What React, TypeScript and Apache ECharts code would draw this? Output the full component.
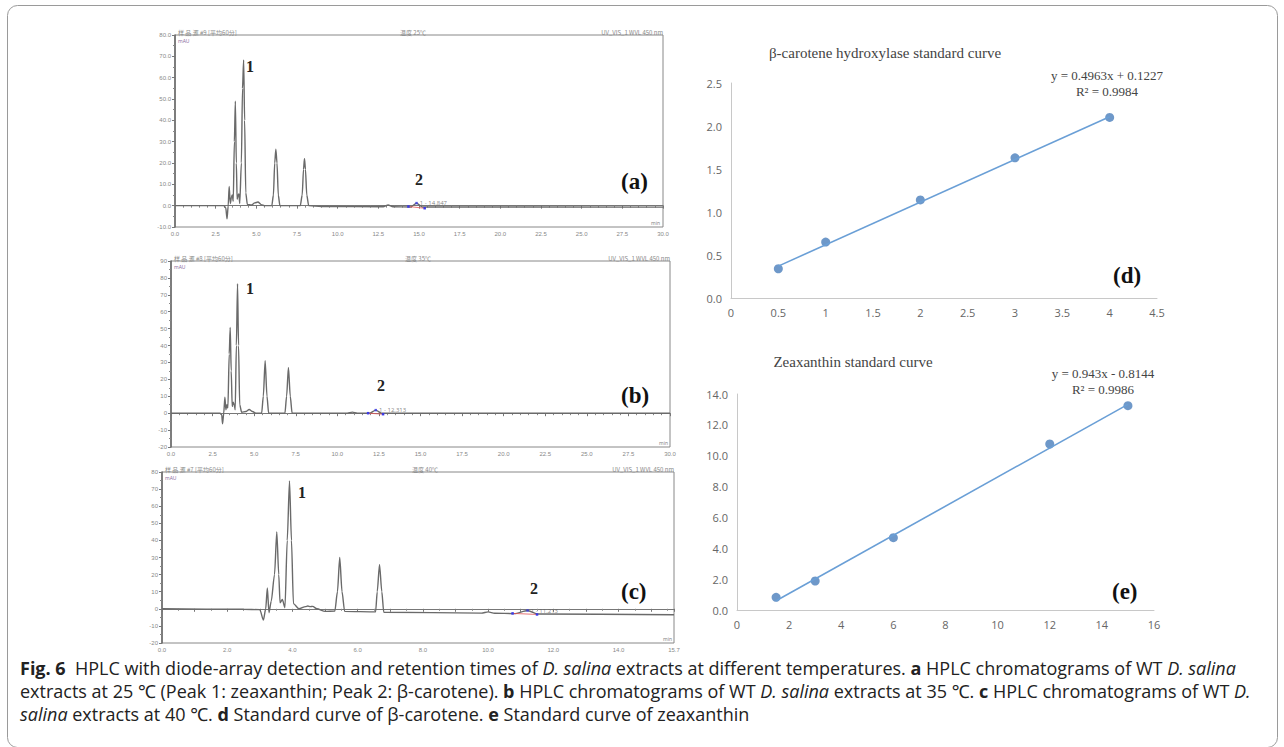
import React, { useEffect, useRef } from "react";
import * as echarts from "echarts";

// ---------- Chromatogram traces (time in min, absorbance in mAU) ----------
const chromA: number[][] = [
  [0, 0], [3.0, 0], [3.12, -1], [3.2, -6.2], [3.27, 0], [3.33, 9], [3.4, 1], [3.47, 4], [3.52, 5], [3.58, 2],
  [3.65, 30], [3.71, 49], [3.77, 20], [3.82, 3], [3.88, 5], [3.93, 5.5], [3.98, 1], [4.08, 20], [4.15, 55],
  [4.22, 68.3], [4.28, 40], [4.35, 6], [4.45, 0.5], [4.7, 0.3], [4.9, 1.3], [5.1, 1.7], [5.3, 0.5], [5.5, 0],
  [5.95, 0], [6.05, 5], [6.13, 20], [6.2, 26.5], [6.27, 20], [6.35, 5], [6.45, 0], [7.7, 0], [7.82, 5],
  [7.9, 17], [7.96, 22], [8.02, 17], [8.1, 5], [8.22, 0], [9, -0.4], [12.8, -0.5], [13.1, 0.3], [13.4, -0.5],
  [14.5, -0.6], [14.85, 1.2], [15.2, -0.6], [30, -0.7],
];
const chromB: number[][] = [
  [0, 0], [2.95, 0], [3.05, -1], [3.1, -6.3], [3.17, 0], [3.24, 9.4], [3.3, 2], [3.36, 5], [3.42, 3],
  [3.5, 35], [3.56, 50.7], [3.62, 25], [3.68, 4], [3.74, 6.5], [3.8, 5], [3.86, 2], [3.93, 40], [4.0, 76.6],
  [4.06, 40], [4.13, 5], [4.25, 0.5], [4.5, 1], [4.7, 2.2], [4.9, 1], [5.1, 0], [5.45, 0], [5.55, 10],
  [5.66, 31], [5.77, 10], [5.87, 0], [6.85, 0], [6.95, 10], [7.06, 27], [7.17, 10], [7.28, 0], [10.6, 0],
  [10.9, 0.6], [11.2, 0], [11.95, 0], [12.31, 1.8], [12.65, 0], [30, 0],
];
const chromC: number[][] = [
  [0, 0], [2.5, -0.3], [3.0, -0.5], [3.11, -6.6], [3.18, 0], [3.23, 12.2], [3.28, -2.3], [3.35, 4.5],
  [3.45, 20], [3.52, 45], [3.58, 20], [3.62, 3.5], [3.69, 5.4], [3.77, 0.6], [3.84, 40], [3.91, 74.8],
  [3.97, 40], [4.03, 3], [4.2, 0], [4.4, 1.3], [4.47, 1.6], [4.55, 1.3], [4.62, 1.4], [4.75, 0], [5.0, -1.5],
  [5.3, -1.3], [5.38, 10], [5.45, 30], [5.52, 10], [5.6, -1.5], [6.55, -1.8], [6.6, 10], [6.67, 26],
  [6.74, 10], [6.8, -2], [9.8, -2.5], [10.0, -1.8], [10.2, -2.6], [10.8, -2.8], [11.21, -1.0], [11.5, -3],
  [15.7, -3.5],
];
// integration baselines of peak 2 (start, end)
const integA: number[][] = [[14.35, -0.4], [15.35, -1.2]];
const integB: number[][] = [[11.85, 0], [12.75, -0.6]];
const integC: number[][] = [[10.75, -2.7], [11.5, -3.3]];
const peak2A = [14.85, 1.2];
const peak2B = [12.31, 1.8];
const peak2C = [11.21, -1.0];
const peak2LabelA = "1 - 14.847";
const peak2LabelB = "1 - 12.313";
const peak2LabelC = "1 - 11.213";

// ---------- Standard curves ----------
const dX = [0.5, 1, 2, 3, 4];
const dY = [0.34, 0.65, 1.14, 1.63, 2.1];
const dSlope = 0.4963;
const dIntercept = 0.1227;
const eX = [1.5, 3, 6, 12, 15];
const eY = [0.82, 1.88, 4.69, 10.76, 13.24];
const eSlope = 0.943;
const eIntercept = -0.8144;

const SERIF = "'Liberation Serif', 'DejaVu Serif', serif";
const SANS = "'Open Sans', 'Noto Sans', sans-serif";

function chromAxisX(gridIndex: number, max: number, interval: number, split: number, fmt: (v: number) => string) {
  return {
    type: "value", gridIndex, min: 0, max, interval,
    axisLine: { show: true, lineStyle: { color: "#777", width: 1 } },
    axisTick: { show: true, length: 3, lineStyle: { color: "#777" } },
    minorTick: { show: true, splitNumber: split, length: 2, lineStyle: { color: "#888" } },
    axisLabel: { fontSize: 6, color: "#888", margin: 4, formatter: fmt, showMinLabel: true, showMaxLabel: true },
    splitLine: { show: false },
  };
}
function chromAxisY(gridIndex: number, min: number, max: number, fmt: (v: number) => string) {
  return {
    type: "value", gridIndex, min, max, interval: 10,
    axisLine: { show: true, lineStyle: { color: "#666", width: 1.5 } },
    axisTick: { show: true, length: 3, lineStyle: { color: "#777" } },
    minorTick: { show: true, splitNumber: 2, length: 2, lineStyle: { color: "#888" } },
    axisLabel: { fontSize: 6, color: "#888", margin: 4, formatter: fmt },
    splitLine: { show: false },
  };
}
function curveAxis(gridIndex: number, min: number, max: number, interval: number, fmt?: (v: number) => string) {
  return {
    type: "value", gridIndex, min, max, interval,
    axisLine: { show: true, onZero: false, lineStyle: { color: "#c8c8c8", width: 1 } },
    axisTick: { show: false },
    axisLabel: { fontSize: 11, color: "#666", fontFamily: SANS, margin: 9, formatter: fmt },
    splitLine: { show: false },
  };
}

function chromSeries(idx: number, data: number[][], integ: number[][], peak: number[], label: string) {
  return [
    {
      type: "line", xAxisIndex: idx, yAxisIndex: idx, data, showSymbol: false, smooth: 0.25,
      smoothMonotone: "x", lineStyle: { color: "#6a6a6a", width: 1.4 }, z: 3,
    },
    {
      type: "line", xAxisIndex: idx, yAxisIndex: idx, data: integ, showSymbol: true, symbol: "rect",
      symbolSize: 2.5, itemStyle: { color: "#3b3be6" }, lineStyle: { color: "#e25555", width: 0.8 }, z: 4,
    },
    {
      type: "scatter", xAxisIndex: idx, yAxisIndex: idx, data: [peak], symbol: "rect", symbolSize: 2.5,
      itemStyle: { color: "#3b3be6" }, z: 4,
      label: { show: true, position: "right", distance: 2, formatter: label, fontSize: 6, color: "#666", fontFamily: SANS },
    },
  ];
}

const trend = (slope: number, icpt: number, xs: number[]) =>
  [xs[0], xs[xs.length - 1]].map((x) => [x, slope * x + icpt]);

function header(left: number, mid: number, right: number, y: number, sample: string, temp: string) {
  const st = { fontSize: 6, fill: "#888", fontFamily: "'Noto Sans CJK SC', sans-serif" };
  return [
    { type: "text", x: left, y, style: { ...st, text: sample } },
    { type: "text", x: mid, y, style: { ...st, text: temp } },
    { type: "text", x: right, y, style: { ...st, text: "UV_VIS_1 WVL 450 nm", align: "right" } },
  ];
}

export default function App() {
  const ref = useRef<HTMLDivElement>(null);
  useEffect(() => {
    const chart = echarts.init(ref.current!, null, { renderer: "svg" });
    const big = { fontFamily: SERIF, fontWeight: "bold", fontSize: 23, fill: "#111" };
    const num = { fontFamily: SERIF, fontWeight: "bold", fontSize: 16, fill: "#222" };
    const small = { fontSize: 5, fill: "#886699", fontFamily: SANS };
    const minTxt = { fontSize: 5, fill: "#777", fontFamily: SANS, align: "right" };
    const CS = 18;
    const cap = { fontFamily: SANS, fontSize: CS, fill: "#222" };
    const capRich = {
      b: { fontFamily: SANS, fontSize: CS, fontWeight: "bold", fill: "#222" },
      i: { fontFamily: SANS, fontSize: CS, fontStyle: "italic", fill: "#222" },
    };
    const option: any = {
      animation: false,
      backgroundColor: "#fff",
      grid: [
        { left: 175, top: 35, width: 488, height: 192, show: true, borderColor: "#888", borderWidth: 1 },
        { left: 171, top: 261, width: 499, height: 186, show: true, borderColor: "#888", borderWidth: 1 },
        { left: 162, top: 472, width: 512, height: 171, show: true, borderColor: "#888", borderWidth: 1 },
        { left: 731, top: 83, width: 426, height: 215 },
        { left: 737, top: 394, width: 417, height: 216 },
      ],
      xAxis: [
        chromAxisX(0, 30, 2.5, 5, (v: number) => v.toFixed(1)),
        chromAxisX(1, 30, 2.5, 5, (v: number) => v.toFixed(1)),
        chromAxisX(2, 15.7, 1, 2, (v: number) => (Math.round(v) % 2 === 0 && Math.abs(v - Math.round(v)) < 1e-6 ? v.toFixed(1) : Math.abs(v - 15.7) < 1e-6 ? "15.7" : "")),
        curveAxis(3, 0, 4.5, 0.5),
        curveAxis(4, 0, 16, 2),
      ],
      yAxis: [
        chromAxisY(0, -10, 80, (v: number) => v.toFixed(1)),
        chromAxisY(1, -20, 90, (v: number) => String(v)),
        chromAxisY(2, -20, 80, (v: number) => String(v)),
        curveAxis(3, 0, 2.5, 0.5, (v: number) => v.toFixed(1)),
        curveAxis(4, 0, 14, 2, (v: number) => v.toFixed(1)),
      ],
      series: [
        ...chromSeries(0, chromA, integA, peak2A, peak2LabelA),
        ...chromSeries(1, chromB, integB, peak2B, peak2LabelB),
        ...chromSeries(2, chromC, integC, peak2C, peak2LabelC),
        {
          type: "line", xAxisIndex: 3, yAxisIndex: 3, data: trend(dSlope, dIntercept, dX), showSymbol: false,
          lineStyle: { color: "#6a9fd6", width: 1.6 },
        },
        {
          type: "scatter", xAxisIndex: 3, yAxisIndex: 3, data: dX.map((x, i) => [x, dY[i]]), symbolSize: 9,
          itemStyle: { color: "#4a7ebb" },
        },
        {
          type: "line", xAxisIndex: 4, yAxisIndex: 4, data: trend(eSlope, eIntercept, eX), showSymbol: false,
          lineStyle: { color: "#6a9fd6", width: 1.6 },
        },
        {
          type: "scatter", xAxisIndex: 4, yAxisIndex: 4, data: eX.map((x, i) => [x, eY[i]]), symbolSize: 9,
          itemStyle: { color: "#4a7ebb" },
        },
      ],
      graphic: [
        { type: "rect", shape: { x: 7.5, y: 5.5, width: 1270, height: 742, r: 10 }, style: { fill: "none", stroke: "#9a9a9a", lineWidth: 1 }, silent: true },
        ...header(178, 400, 663, 29, "样 品 滙 #9 [平均60分]", "温度 25℃"),
        ...header(174, 405, 670, 255, "样 品 滙 #8 [平均60分]", "温度 35℃"),
        ...header(165, 412, 674, 466, "样 品 滙 #7 [平均60分]", "温度 40℃"),
        { type: "text", x: 178, y: 38, style: { ...small, text: "mAU" } },
        { type: "text", x: 174, y: 264, style: { ...small, text: "mAU" } },
        { type: "text", x: 165, y: 475, style: { ...small, text: "mAU" } },
        { type: "text", x: 660, y: 220, style: { ...minTxt, text: "min" } },
        { type: "text", x: 668, y: 440, style: { ...minTxt, text: "min" } },
        { type: "text", x: 672, y: 636, style: { ...minTxt, text: "min" } },
        { type: "text", x: 246, y: 58, style: { ...num, text: "1" } },
        { type: "text", x: 415, y: 171, style: { ...num, text: "2" } },
        { type: "text", x: 246, y: 280, style: { ...num, text: "1" } },
        { type: "text", x: 377, y: 377, style: { ...num, text: "2" } },
        { type: "text", x: 298, y: 484, style: { ...num, text: "1" } },
        { type: "text", x: 530, y: 580, style: { ...num, text: "2" } },
        { type: "text", x: 621, y: 170, style: { ...big, text: "(a)" } },
        { type: "text", x: 621, y: 384, style: { ...big, text: "(b)" } },
        { type: "text", x: 621, y: 580, style: { ...big, text: "(c)" } },
        { type: "text", x: 1113, y: 264, style: { ...big, text: "(d)" } },
        { type: "text", x: 1112, y: 580, style: { ...big, text: "(e)" } },
        { type: "text", x: 885, y: 53, style: { fontFamily: SERIF, fontSize: 15, fill: "#444", text: "β-carotene hydroxylase standard curve", align: "center", verticalAlign: "middle" } },
        { type: "text", x: 853, y: 362, style: { fontFamily: SERIF, fontSize: 15, fill: "#444", text: "Zeaxanthin standard curve", align: "center", verticalAlign: "middle" } },
        { type: "text", x: 1107, y: 75, style: { fontFamily: SERIF, fontSize: 13, fill: "#444", text: "y = 0.4963x + 0.1227", align: "center", verticalAlign: "middle" } },
        { type: "text", x: 1107, y: 91, style: { fontFamily: SERIF, fontSize: 13, fill: "#444", text: "R² = 0.9984", align: "center", verticalAlign: "middle" } },
        { type: "text", x: 1103, y: 373, style: { fontFamily: SERIF, fontSize: 13, fill: "#444", text: "y = 0.943x - 0.8144", align: "center", verticalAlign: "middle" } },
        { type: "text", x: 1103, y: 389, style: { fontFamily: SERIF, fontSize: 13, fill: "#444", text: "R² = 0.9986", align: "center", verticalAlign: "middle" } },
        {
          type: "text", x: 20, y: 668, style: {
            ...cap, verticalAlign: "middle", rich: capRich,
            text: "{b|Fig. 6}  HPLC with diode-array detection and retention times of {i|D. salina} extracts at different temperatures. {b|a} HPLC chromatograms of WT {i|D. salina}",
          },
        },
        {
          type: "text", x: 20, y: 691, style: {
            ...cap, verticalAlign: "middle", rich: capRich,
            text: "extracts at 25 ℃ (Peak 1: zeaxanthin; Peak 2: β-carotene). {b|b} HPLC chromatograms of WT {i|D. salina} extracts at 35 ℃. {b|c} HPLC chromatograms of WT {i|D.}",
          },
        },
        {
          type: "text", x: 20, y: 714, style: {
            ...cap, verticalAlign: "middle", rich: capRich,
            text: "{i|salina} extracts at 40 ℃. {b|d} Standard curve of β-carotene. {b|e} Standard curve of zeaxanthin",
          },
        },
      ],
    };
    chart.setOption(option);
    return () => chart.dispose();
  }, []);
  return <div ref={ref} style={{ position: "absolute", left: 0, top: 0, width: 1284, height: 747, background: "#fff" }} />;
}
